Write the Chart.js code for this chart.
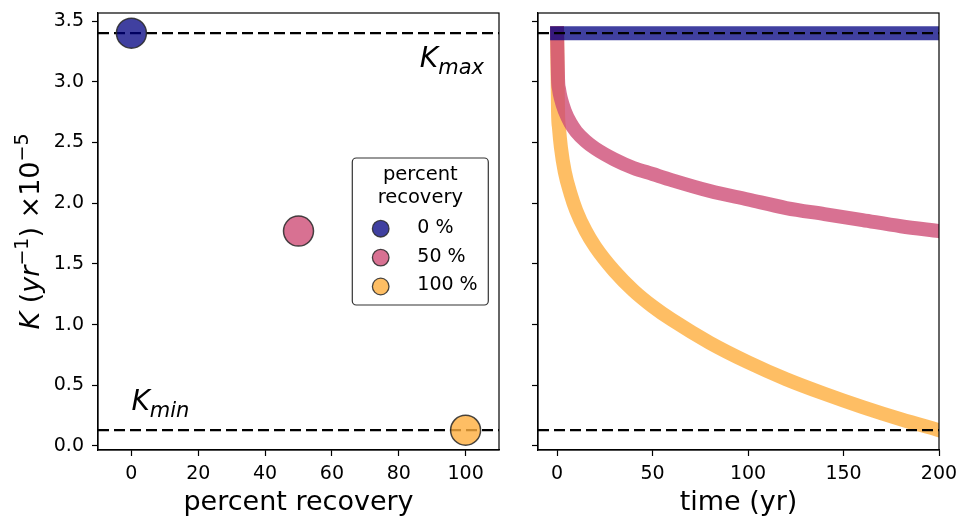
<!DOCTYPE html>
<html>
<head>
<meta charset="utf-8">
<script src="https://cdn.jsdelivr.net/npm/chart.js@4/dist/chart.umd.min.js"></script>
<style>
  html, body { margin: 0; padding: 0; background: #fff; }
  #wrap { position: relative; width: 960px; height: 519px; }
  .panel { position: absolute; top: 0; height: 519px; }
  #left { left: 0; width: 505px; }
  #right { left: 505px; width: 455px; }
</style>
</head>
<body>
<div id="wrap">
  <div class="panel" id="left"><canvas id="ChartRecovery"></canvas></div>
  <div class="panel" id="right"><canvas id="ChartTime"></canvas></div>
</div>
<script>
(function () {
  "use strict";

  // data
  const percentRecovery = [0, 50, 100];
  const kFinal          = [3.4, 1.77, 0.13];
  const recoveryLabels  = ['0 %', '50 %', '100 %'];
  const kMax = 3.4;
  const kMin = 0.13;

  const timeYears = [0, 0.5, 1, 2, 4, 7, 10, 15, 20, 30, 40, 50, 60, 80, 100, 120, 140, 160, 180, 200];
  const k0   = [3.4, 3.4, 3.4, 3.4, 3.4, 3.4, 3.4, 3.4, 3.4, 3.4, 3.4, 3.4, 3.4, 3.4, 3.4, 3.4, 3.4, 3.4, 3.4, 3.4];
  const k50  = [3.4, 3.02, 2.94, 2.86, 2.76, 2.66, 2.59, 2.51, 2.45, 2.36, 2.29, 2.24, 2.19, 2.10, 2.03, 1.96, 1.91, 1.86, 1.81, 1.77];
  const k100 = [3.4, 2.75, 2.62, 2.46, 2.26, 2.08, 1.94, 1.77, 1.64, 1.44, 1.28, 1.15, 1.04, 0.85, 0.69, 0.55, 0.43, 0.32, 0.22, 0.13];

  const xTicksLeft  = [0, 20, 40, 60, 80, 100];
  const xTicksRight = [0, 50, 100, 150, 200];
  const yTicks      = [0, 0.5, 1, 1.5, 2, 2.5, 3, 3.5];
  const xLimLeft  = [-10, 110];
  const xLimRight = [-10, 200];
  const yLim      = [-0.033, 3.566];

  // colours
  const fillColors = ['rgba(0,0,128,0.75)', 'rgba(206,78,119,0.8)', 'rgba(254,174,61,0.8)'];
  const edgeColor  = 'rgba(40,40,40,0.85)';
  const FONT = '"DejaVu Sans", sans-serif';

  Chart.defaults.font.family = FONT;
  Chart.defaults.color = '#000';

  function drawRich(ctx, parts, x, y, align) {
    let total = 0;
    parts.forEach(p => {
      ctx.font = (p.italic ? 'italic ' : '') + p.size + 'px ' + FONT;
      p.w = ctx.measureText(p.text).width;
      total += p.w;
    });
    let cx = align === 'right' ? x - total : (align === 'center' ? x - total / 2 : x);
    ctx.textAlign = 'left';
    ctx.textBaseline = 'alphabetic';
    ctx.fillStyle = '#000';
    parts.forEach(p => {
      ctx.font = (p.italic ? 'italic ' : '') + p.size + 'px ' + FONT;
      ctx.fillText(p.text, cx, y + (p.dy || 0));
      cx += p.w;
    });
  }

  const ticksOf = arr => scale => { scale.ticks = arr.map(v => ({ value: v })); };

  function axisX(lim, ticks, title) {
    return {
      type: 'linear', min: lim[0], max: lim[1],
      afterBuildTicks: ticksOf(ticks),
      afterFit: s => { s.height = 69; s.paddingLeft = 0; s.paddingRight = 0; },
      grid: { display: true, drawOnChartArea: false, drawTicks: true, tickLength: 6, tickColor: '#000', tickWidth: 1.2 },
      border: { display: true, color: '#000', width: 1.2 },
      ticks: { font: { size: 19 }, padding: 7, autoSkip: false, maxRotation: 0, color: '#000' },
      title: { display: true, text: title, font: { size: 27 }, color: '#000', padding: 0 }
    };
  }
  function axisY(width, showLabels) {
    return {
      type: 'linear', min: yLim[0], max: yLim[1],
      afterBuildTicks: ticksOf(yTicks),
      afterFit: s => { s.width = width; s.paddingTop = 0; s.paddingBottom = 0; },
      grid: { display: true, drawOnChartArea: false, drawTicks: true, tickLength: 6, tickColor: '#000', tickWidth: 1.2 },
      border: { display: true, color: '#000', width: 1.2 },
      ticks: { display: showLabels, font: { size: 19 }, padding: 8, color: '#000', callback: v => Number(v).toFixed(1) }
    };
  }

  // top / right spines
  const frame = {
    id: 'frame',
    afterDraw(chart) {
      const { ctx, chartArea: a } = chart;
      ctx.save();
      ctx.strokeStyle = '#000';
      ctx.lineWidth = 1.2;
      ctx.strokeRect(a.left, a.top, a.right - a.left, a.bottom - a.top);
      ctx.restore();
    }
  };

  // left panel extras: K labels, y title, legend
  const leftExtras = {
    id: 'leftExtras',
    afterDraw(chart) {
      const { ctx, chartArea: a, scales } = chart;
      const xs = scales.x, ys = scales.y;
      ctx.save();
      drawRich(ctx, [
        { text: 'K', size: 28, italic: true },
        { text: 'max', size: 21, italic: true, dy: 7 }
      ], xs.getPixelForValue(105.5), ys.getPixelForValue(3.12), 'right');
      drawRich(ctx, [
        { text: 'K', size: 28, italic: true },
        { text: 'min', size: 21, italic: true, dy: 7 }
      ], xs.getPixelForValue(0), ys.getPixelForValue(0.30), 'left');

      // y axis title
      ctx.save();
      ctx.translate(39, (a.top + a.bottom) / 2);
      ctx.rotate(-Math.PI / 2);
      drawRich(ctx, [
        { text: 'K', size: 27, italic: true },
        { text: ' (', size: 27 },
        { text: 'yr', size: 27, italic: true },
        { text: '\u22121', size: 19, dy: -11 },
        { text: ')', size: 27 },
        { text: ' \u00d710', size: 27 },
        { text: '\u22125', size: 19, dy: -11 }
      ], 0, 0, 'center');
      ctx.restore();

      // legend
      const bw = 136, bh = 147;
      const bx = a.right - 10.7 - bw;
      const by = (a.top + a.bottom) / 2 - bh / 2;
      ctx.beginPath();
      ctx.roundRect(bx, by, bw, bh, 4);
      ctx.fillStyle = 'rgba(255,255,255,0.85)';
      ctx.fill();
      ctx.strokeStyle = '#333';
      ctx.lineWidth = 1.2;
      ctx.stroke();
      ctx.fillStyle = '#000';
      ctx.font = '19.5px ' + FONT;
      ctx.textAlign = 'center';
      ctx.textBaseline = 'middle';
      ctx.fillText('percent', bx + bw / 2, by + 16.7);
      ctx.fillText('recovery', bx + bw / 2, by + 40);
      recoveryLabels.forEach((lab, i) => {
        const my = by + 70.7 + i * 28.9;
        ctx.beginPath();
        ctx.arc(bx + 28.4, my, 8.3, 0, Math.PI * 2);
        ctx.fillStyle = fillColors[i];
        ctx.fill();
        ctx.strokeStyle = edgeColor;
        ctx.lineWidth = 1.3;
        ctx.stroke();
        ctx.fillStyle = '#000';
        ctx.textAlign = 'left';
        ctx.font = '19px ' + FONT;
        ctx.fillText(lab, bx + 65, my - 1);
      });
      ctx.restore();
    }
  };

  function dashed(lim, y) {
    return {
      type: 'line',
      data: [{ x: lim[0], y: y }, { x: lim[1], y: y }],
      borderColor: '#000', borderWidth: 2.2, borderDash: [11, 5],
      pointRadius: 0, fill: false, clip: 0, order: 1
    };
  }

  // Left panel: K against percent recovery
  const chart_left = document.getElementById('ChartRecovery');
  if (chart_left != null) {
    const pointSets = percentRecovery.map((p, i) => ({
      type: 'scatter',
      label: recoveryLabels[i],
      data: [{ x: p, y: kFinal[i] }],
      pointRadius: 15,
      pointBackgroundColor: fillColors[i],
      pointBorderColor: edgeColor,
      pointBorderWidth: 1.5,
      clip: 0,
      order: 0
    }));
    new Chart(chart_left, {
      type: 'scatter',
      data: { datasets: pointSets.concat([dashed(xLimLeft, kMax), dashed(xLimLeft, kMin)]) },
      options: {
        responsive: true, maintainAspectRatio: false, animation: false,
        layout: { autoPadding: false, padding: { top: 13, right: 6, left: 0, bottom: 0 } },
        plugins: { legend: { display: false }, tooltip: { enabled: false } },
        scales: { x: axisX(xLimLeft, xTicksLeft, 'percent recovery'), y: axisY(98, true) }
      },
      plugins: [frame, leftExtras]
    });
  }

  // Right panel: K through time
  const chart_right = document.getElementById('ChartTime');
  if (chart_right != null) {
    const series = [k0, k50, k100];
    const lineSets = series.map((vals, i) => ({
      type: 'line',
      label: recoveryLabels[i],
      data: timeYears.map((t, j) => ({ x: t, y: vals[j] })),
      borderColor: fillColors[i],
      borderWidth: 14,
      borderCapStyle: 'square',
      borderJoinStyle: 'round',
      cubicInterpolationMode: 'monotone',
      pointRadius: 0, fill: false, clip: 0,
      order: i + 2
    }));
    const dk = [dashed(xLimRight, kMax), dashed(xLimRight, kMin)];
    dk.forEach(d => { d.order = 0; });
    new Chart(chart_right, {
      type: 'line',
      data: { datasets: lineSets.concat(dk) },
      options: {
        responsive: true, maintainAspectRatio: false, animation: false,
        layout: { autoPadding: false, padding: { top: 13, right: 21, left: 0, bottom: 0 } },
        plugins: { legend: { display: false }, tooltip: { enabled: false } },
        scales: { x: axisX(xLimRight, xTicksRight, 'time (yr)'), y: axisY(33, false) }
      },
      plugins: [frame]
    });
  }
})();
</script>
</body>
</html>
